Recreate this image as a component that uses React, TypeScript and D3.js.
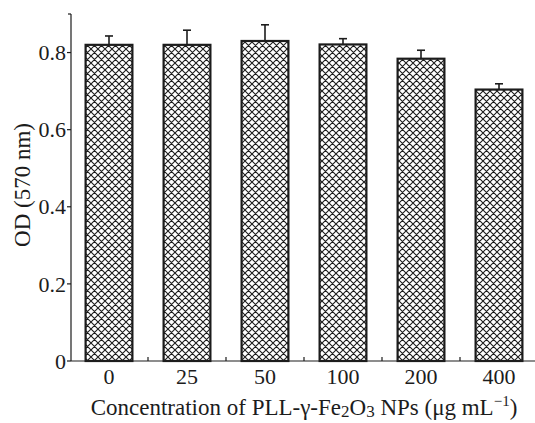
import * as d3 from "d3";

const categories = ["0", "25", "50", "100", "200", "400"];
const values = [0.82, 0.82, 0.83, 0.821, 0.784, 0.704];
const errors = [0.023, 0.038, 0.042, 0.015, 0.022, 0.015];
const yTicks = [0, 0.2, 0.4, 0.6, 0.8];

const W = 535;
const H = 423;
const font = "'Liberation Serif', 'Times New Roman', serif";
const ink = "#1c1c1c";

export default function App() {
  const x = d3
    .scaleBand<string>()
    .domain(categories)
    .range([70, 538])
    .paddingInner(0.4)
    .paddingOuter(0.2);
  const y = d3.scaleLinear().domain([0, 0.9]).range([361, 14]);
  const left = 71;
  const bw = x.bandwidth();

  // x ticks sit between the bars
  const xTickPos = categories.slice(1).map((c) => (x(c) as number) - (x.step() - bw) / 2);

  return (
    <svg
      width={W}
      height={H}
      style={{ position: "absolute", left: 0, top: 0, background: "#fff" }}
      fontFamily={font}
    >
      <defs>
        <pattern id="xhatch" width={7} height={7} patternUnits="userSpaceOnUse">
          <rect width={7} height={7} fill="#fff" />
          <path d="M0,0 L7,7 M7,0 L0,7 M-1,6 L1,8 M6,-1 L8,1 M-1,1 L1,-1 M6,8 L8,6" stroke={ink} strokeWidth={1.1} />
        </pattern>
      </defs>

      {categories.map((c, i) => {
        const x0 = x(c) as number;
        const cx = x0 + bw / 2;
        return (
          <g key={c}>
            <line x1={cx} x2={cx} y1={y(values[i])} y2={y(values[i] + errors[i])} stroke={ink} strokeWidth={1.6} />
            <line x1={cx - 4} x2={cx + 4} y1={y(values[i] + errors[i])} y2={y(values[i] + errors[i])} stroke={ink} strokeWidth={1.6} />
            <rect
              x={x0}
              y={y(values[i])}
              width={bw}
              height={y(0) - y(values[i])}
              fill="url(#xhatch)"
              stroke={ink}
              strokeWidth={2.2}
            />
          </g>
        );
      })}

      {/* y axis */}
      <line x1={left} x2={left} y1={y(0.9)} y2={y(0)} stroke={ink} strokeWidth={1.2} />
      <line x1={left - 3} x2={left} y1={y(0.9)} y2={y(0.9)} stroke={ink} strokeWidth={1.2} />
      {yTicks.map((t) => (
        <g key={t}>
          <line x1={left - 4} x2={left} y1={y(t)} y2={y(t)} stroke={ink} strokeWidth={1.2} />
          <text x={left - 5} y={y(t)} dy="0.35em" textAnchor="end" fontSize={22} fill={ink}>
            {t === 0 ? "0" : t.toFixed(1)}
          </text>
        </g>
      ))}

      {/* x axis */}
      <line x1={left} x2={W} y1={y(0)} y2={y(0)} stroke={ink} strokeWidth={1.2} />
      {xTickPos.map((p, i) => (
        <line key={i} x1={p} x2={p} y1={y(0)} y2={y(0) - 4} stroke={ink} strokeWidth={1.2} />
      ))}
      {categories.map((c) => (
        <text key={c} x={(x(c) as number) + bw / 2} y={384} textAnchor="middle" fontSize={22} fill={ink}>
          {c}
        </text>
      ))}

      <text x={304} y={415} textAnchor="middle" fontSize={23} fill={ink}>
        Concentration of PLL-γ-Fe
        <tspan fontSize={17} dy={2}>2</tspan>
        <tspan dy={-2}>O</tspan>
        <tspan fontSize={17} dy={2}>3</tspan>
        <tspan dy={-2}> NPs (μg mL</tspan>
        <tspan fontSize={15} dy={-9}>−1</tspan>
        <tspan dy={9}>)</tspan>
      </text>

      <text transform="translate(30,185) rotate(-90)" textAnchor="middle" fontSize={23} fill={ink}>
        OD (570 nm)
      </text>
    </svg>
  );
}
